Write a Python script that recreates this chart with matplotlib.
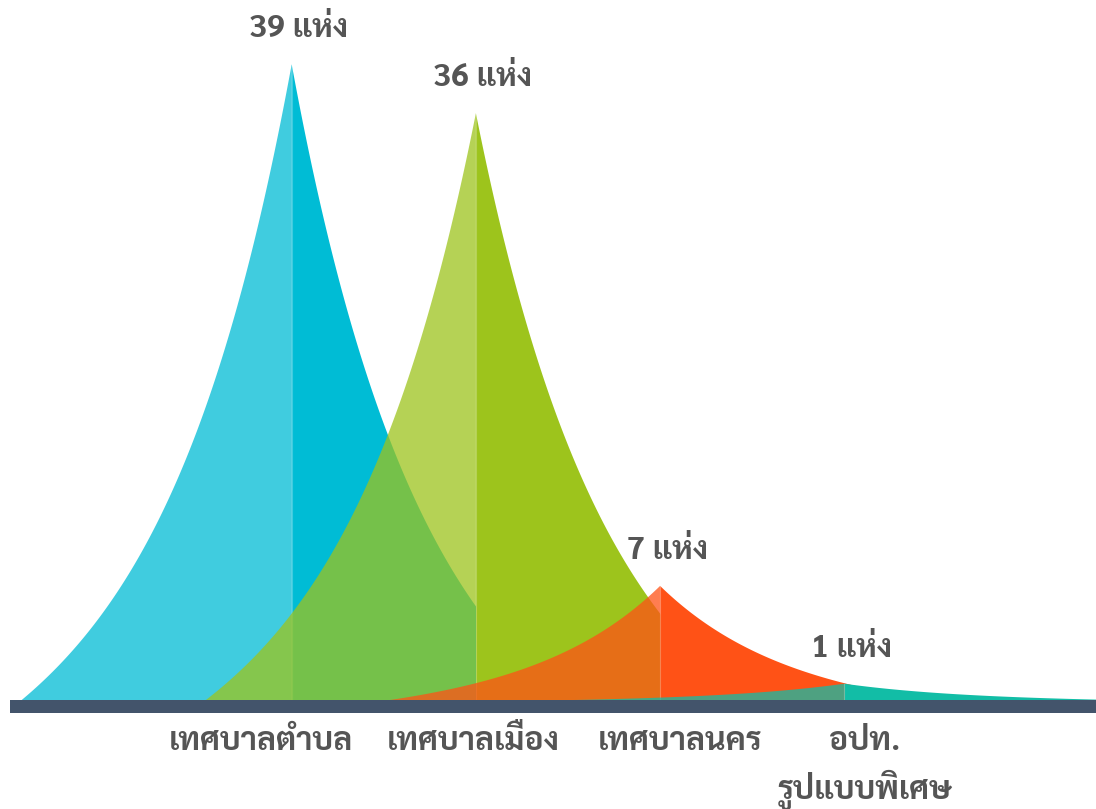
import numpy as np
import matplotlib.pyplot as plt
from matplotlib.patches import Polygon, Rectangle
from matplotlib import font_manager
from matplotlib.ft2font import FT2Font

categories = ['เทศบาลตำบล', 'เทศบาลเมือง', 'เทศบาลนคร', 'อปท.\nรูปแบบพิเศษ']
counts = [39, 36, 7, 1]
count_labels = ['39 แห่ง', '36 แห่ง', '7 แห่ง', '1 แห่ง']
colors = ['#00bcd5', '#9dc41c', '#ff5216', '#12bda6']

# look for an installed font that has thai glyphs, bold if possible
def wt(w):
    if isinstance(w, str):
        return {'bold': 700, 'heavy': 800, 'black': 900, 'semibold': 600, 'demibold': 600}.get(w, 400)
    return w

thai = {}
for f in font_manager.fontManager.ttflist:
    try:
        if 0x0E01 in FT2Font(f.fname).get_charmap():
            thai.setdefault(f.name, []).append(wt(f.weight))
    except Exception:
        pass
pref = ['Noto Sans Thai', 'Noto Sans Thai Looped', 'Sarabun', 'Waree', 'Loma', 'Garuda', 'FreeSans', 'Tlwg Typo']
names = sorted(thai, key=lambda n: (-(max(thai[n]) >= 600), pref.index(n) if n in pref else 99))
plt.rcParams['font.family'] = names[:1] + ['DejaVu Sans']

W, H = 1096, 809
fig = plt.figure(figsize=(W / 100, H / 100), dpi=100)
ax = fig.add_axes([0, 0, 1, 1])
ax.axis('off')

# layout in pixels
step_px = 184.2      # distance between peaks
first_px = 291.7     # x of first peak
unit_px = 16.3       # pixels per count
base_px = 109        # baseline height from bottom
label_px = [261, 473, 680, 865]   # centres of the category labels
ax.set_xlim(-first_px / step_px, (W - first_px) / step_px)
ax.set_ylim(-base_px / unit_px, (H - base_px) / unit_px)

half_w = 270 / step_px
k = 2.2
u = np.linspace(1, 0, 200)

for i, (v, c) in enumerate(zip(counts, colors)):
    prof = v * (np.exp(-k * u) - u * np.exp(-k))
    left = np.column_stack([i - half_w * u, prof])
    left = np.vstack([left, [i, 0]])
    right = np.column_stack([i + half_w * u, prof])
    right = np.vstack([right, [i, 0]])
    ax.add_patch(Polygon(left, closed=True, fc=c, ec='none', alpha=0.75, zorder=2 + i))
    ax.add_patch(Polygon(right, closed=True, fc=c, ec='none', alpha=1, zorder=2 + i))
    ax.plot([i, i], [0, v], color='white', lw=0.8, alpha=0.25, zorder=2 + i)
    ax.annotate(count_labels[i], xy=(i, v), xytext=(7, 27), textcoords='offset pixels',
                ha='center', va='baseline', fontsize=23, fontweight='bold', color='#555555',
                zorder=10)

# axis bar
ax.add_patch(Rectangle(((10 - first_px) / step_px, -13 / unit_px), (W - 10) / step_px, 13 / unit_px,
                       fc='#43546b', ec='none', zorder=8))

for i, cat in enumerate(categories):
    lx = (label_px[i] - first_px) / step_px
    ax.text(lx, -26 / unit_px, cat, ha='center', va='top', fontsize=23, fontweight='bold',
            color='#555555', linespacing=1.45, zorder=10)

fig.savefig('out.png', dpi=100, facecolor='white')
